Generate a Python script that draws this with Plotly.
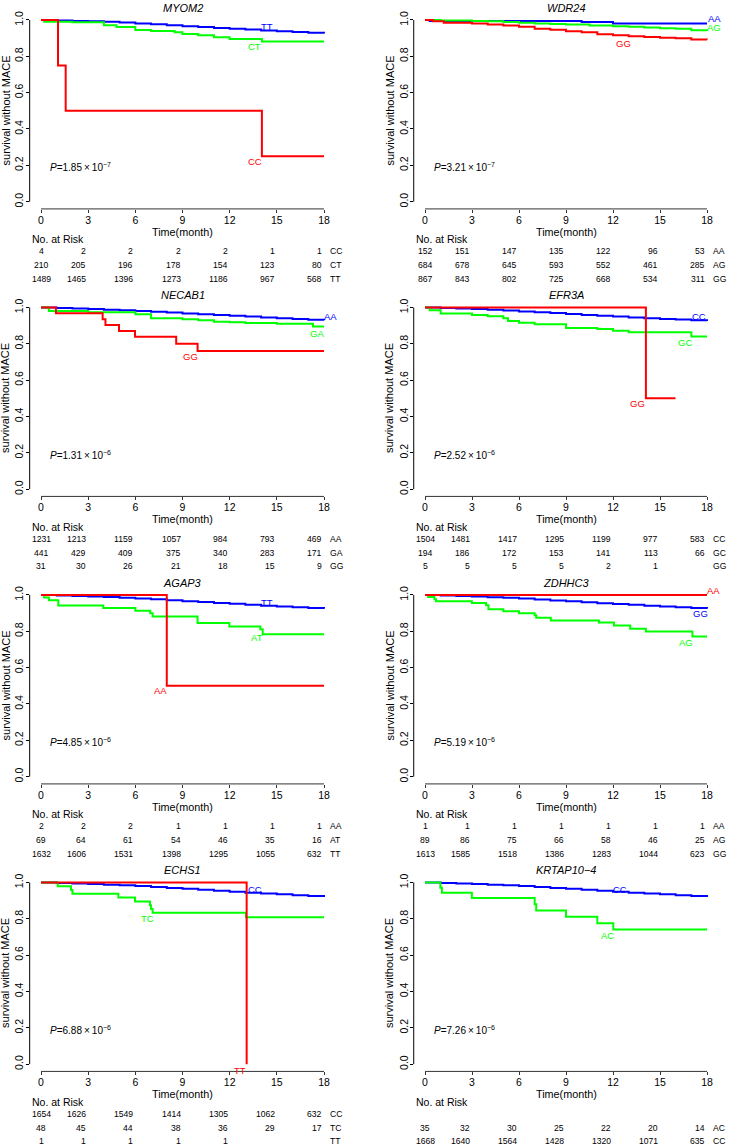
import plotly.graph_objects as go

W, H = 729, 1147
FONT = "Liberation Sans, Arial, Helvetica, sans-serif"
BLUE, GREEN, RED = "#0000FF", "#00FF00", "#FF0000"

TIME_TICKS = [0, 3, 6, 9, 12, 15, 18]
Y_TICKS = [0.0, 0.2, 0.4, 0.6, 0.8, 1.0]
Y_TICK_TEXT = ["0.0", "0.2", "0.4", "0.6", "0.8", "1.0"]

GENES = ["MYOM2", "WDR24", "NECAB1", "EFR3A", "AGAP3", "ZDHHC3", "ECHS1", "KRTAP10\u22124"]
P_MANT = ["1.85", "3.21", "1.31", "2.52", "4.85", "5.19", "6.88", "7.26"]
P_EXP = [-7, -7, -6, -6, -6, -6, -6, -6]

MONTHS = [0, 1, 2, 3, 4, 5, 6, 7, 8, 9, 10, 11, 12, 13, 14, 15, 16, 17, 18]

# ---- MYOM2 ----
MYOM2_TT_t = MONTHS
MYOM2_TT_s = [1.0, 0.997, 0.995, 0.993, 0.990, 0.986, 0.981, 0.976, 0.971, 0.966, 0.961, 0.956, 0.951, 0.947, 0.942, 0.938, 0.934, 0.929, 0.925]
MYOM2_CT_t = [0, 0.2, 2.0, 4.0, 4.8, 6.0, 7.0, 8.5, 9.0, 10.0, 11.0, 12.0, 14.05, 18]
MYOM2_CT_s = [1.0, 0.99, 0.987, 0.971, 0.961, 0.945, 0.939, 0.932, 0.923, 0.916, 0.905, 0.895, 0.882, 0.882]
MYOM2_CC_t = [0, 1.08, 1.57, 14.05, 18]
MYOM2_CC_s = [1.0, 0.75, 0.5, 0.25, 0.25]

# ---- WDR24 ----
WDR24_AA_t = [0, 0.3, 4.0, 10.0, 12.0, 18]
WDR24_AA_s = [1.0, 0.994, 0.994, 0.989, 0.981, 0.981]
WDR24_AG_t = [0, 1, 3, 4, 5, 6, 7, 8, 9, 10.5, 12, 13, 14, 15, 16, 17, 18]
WDR24_AG_s = [1.0, 0.997, 0.995, 0.993, 0.989, 0.985, 0.981, 0.978, 0.975, 0.970, 0.965, 0.962, 0.958, 0.955, 0.951, 0.944, 0.939]
WDR24_GG_t = [0, 0.5, 1.2, 3, 4, 5, 6, 7, 8, 9, 10, 11, 12, 13, 14, 15, 16, 17, 18]
WDR24_GG_s = [1.0, 0.993, 0.985, 0.980, 0.975, 0.970, 0.962, 0.952, 0.946, 0.938, 0.932, 0.922, 0.916, 0.910, 0.906, 0.902, 0.899, 0.893, 0.892]

# ---- NECAB1 ----
NECAB1_AA_t = MONTHS
NECAB1_AA_s = [1.0, 0.997, 0.994, 0.991, 0.988, 0.985, 0.981, 0.977, 0.972, 0.967, 0.963, 0.959, 0.954, 0.950, 0.945, 0.941, 0.937, 0.933, 0.929]
NECAB1_GA_t = [0, 0.5, 3.0, 6.0, 7.0, 9.0, 10.0, 11.0, 12.0, 13.0, 15.0, 17.3, 18]
NECAB1_GA_s = [1.0, 0.98, 0.973, 0.963, 0.94, 0.935, 0.93, 0.922, 0.918, 0.915, 0.91, 0.895, 0.895]
NECAB1_GG_t = [0, 0.95, 3.92, 4.1, 4.96, 5.98, 8.6, 9.96, 18]
NECAB1_GG_s = [1.0, 0.968, 0.935, 0.903, 0.871, 0.839, 0.8, 0.76, 0.76]

# ---- EFR3A ----
EFR3A_CC_t = MONTHS
EFR3A_CC_s = [1.0, 0.997, 0.994, 0.991, 0.987, 0.983, 0.978, 0.974, 0.969, 0.964, 0.959, 0.955, 0.950, 0.945, 0.941, 0.937, 0.934, 0.930, 0.926]
EFR3A_GC_t = [0, 0.3, 1.0, 3.0, 4.0, 5.0, 5.3, 6.0, 7.0, 9.0, 11.0, 12.0, 13.0, 17.0, 18]
EFR3A_GC_s = [1.0, 0.985, 0.967, 0.958, 0.951, 0.94, 0.925, 0.916, 0.907, 0.887, 0.881, 0.872, 0.863, 0.84, 0.84]
EFR3A_GG_t = [0, 14.1, 15.99]
EFR3A_GG_s = [1.0, 0.5, 0.5]

# ---- AGAP3 ----
AGAP3_TT_t = MONTHS
AGAP3_TT_s = [1.0, 0.997, 0.995, 0.992, 0.989, 0.985, 0.981, 0.976, 0.971, 0.966, 0.961, 0.956, 0.951, 0.946, 0.941, 0.937, 0.933, 0.928, 0.924]
AGAP3_AT_t = [0, 0.2, 0.5, 1.1, 3.96, 6.0, 6.95, 7.1, 9.96, 11.98, 13.95, 14.1, 18]
AGAP3_AT_s = [1.0, 0.986, 0.971, 0.942, 0.928, 0.913, 0.899, 0.881, 0.846, 0.826, 0.811, 0.784, 0.784]
AGAP3_AA_t = [0, 8.0, 18]
AGAP3_AA_s = [1.0, 0.5, 0.5]

# ---- ZDHHC3 ----
ZDHHC3_GG_t = MONTHS
ZDHHC3_GG_s = [1.0, 0.997, 0.994, 0.991, 0.988, 0.984, 0.980, 0.975, 0.970, 0.965, 0.960, 0.955, 0.950, 0.946, 0.941, 0.937, 0.933, 0.928, 0.924]
ZDHHC3_AG_t = [0, 0.2, 0.6, 0.7, 2.99, 3.9, 4.05, 5.0, 6.0, 7.0, 7.1, 8.03, 11.1, 12.06, 13.1, 14.1, 17.07, 18]
ZDHHC3_AG_s = [1.0, 0.989, 0.977, 0.966, 0.956, 0.944, 0.921, 0.910, 0.899, 0.888, 0.874, 0.859, 0.848, 0.832, 0.814, 0.799, 0.771, 0.771]
ZDHHC3_AA_t = [0, 18]
ZDHHC3_AA_s = [1.0, 1.0]

# ---- ECHS1 ----
ECHS1_CC_t = MONTHS
ECHS1_CC_s = [1.0, 0.997, 0.994, 0.991, 0.988, 0.984, 0.980, 0.975, 0.970, 0.965, 0.960, 0.955, 0.949, 0.944, 0.939, 0.935, 0.930, 0.925, 0.920]
ECHS1_TC_t = [0, 1.06, 1.91, 2.0, 4.92, 5.98, 6.93, 7.0, 7.1, 13.04, 18]
ECHS1_TC_s = [1.0, 0.979, 0.958, 0.938, 0.917, 0.895, 0.875, 0.854, 0.833, 0.808, 0.808]
ECHS1_TT_t = [0, 13.08]
ECHS1_TT_s = [1.0, 0.0]

# ---- KRTAP10-4 ----
KRTAP_CC_t = MONTHS
KRTAP_CC_s = [1.0, 0.997, 0.994, 0.991, 0.988, 0.984, 0.980, 0.975, 0.970, 0.965, 0.960, 0.955, 0.949, 0.944, 0.939, 0.935, 0.930, 0.925, 0.920]
KRTAP_AC_t = [0, 0.98, 1.08, 2.99, 7.0, 7.1, 9.0, 11.0, 12.02, 18]
KRTAP_AC_s = [1.0, 0.971, 0.943, 0.914, 0.88, 0.846, 0.811, 0.776, 0.741, 0.741]

# ---- numbers at risk (rows top to bottom) ----
RISK_MYOM2 = [("CC", [4, 2, 2, 2, 2, 1, 1]), ("CT", [210, 205, 196, 178, 154, 123, 80]), ("TT", [1489, 1465, 1396, 1273, 1186, 967, 568])]
RISK_WDR24 = [("AA", [152, 151, 147, 135, 122, 96, 53]), ("AG", [684, 678, 645, 593, 552, 461, 285]), ("GG", [867, 843, 802, 725, 668, 534, 311])]
RISK_NECAB1 = [("AA", [1231, 1213, 1159, 1057, 984, 793, 469]), ("GA", [441, 429, 409, 375, 340, 283, 171]), ("GG", [31, 30, 26, 21, 18, 15, 9])]
RISK_EFR3A = [("CC", [1504, 1481, 1417, 1295, 1199, 977, 583]), ("GC", [194, 186, 172, 153, 141, 113, 66]), ("GG", [5, 5, 5, 5, 2, 1, None])]
RISK_AGAP3 = [("AA", [2, 2, 2, 1, 1, 1, 1]), ("AT", [69, 64, 61, 54, 46, 35, 16]), ("TT", [1632, 1606, 1531, 1398, 1295, 1055, 632])]
RISK_ZDHHC3 = [("AA", [1, 1, 1, 1, 1, 1, 1]), ("AG", [89, 86, 75, 66, 58, 46, 25]), ("GG", [1613, 1585, 1518, 1386, 1283, 1044, 623])]
RISK_ECHS1 = [("CC", [1654, 1626, 1549, 1414, 1305, 1062, 632]), ("TC", [48, 45, 44, 38, 36, 29, 17]), ("TT", [1, 1, 1, 1, 1, None, None])]
RISK_KRTAP = [(None, None), ("AC", [35, 32, 30, 25, 22, 20, 14]), ("CC", [1668, 1640, 1564, 1428, 1320, 1071, 635])]

# curves: (name, times, surv, color, label position (t, s))
PANELS = [
    [("TT", MYOM2_TT_t, MYOM2_TT_s, BLUE, (14.36, 0.965)), ("CT", MYOM2_CT_t, MYOM2_CT_s, GREEN, (13.6, 0.852)), ("CC", MYOM2_CC_t, MYOM2_CC_s, RED, (13.6, 0.22))],
    [("AA", WDR24_AA_t, WDR24_AA_s, BLUE, (18.45, 1.007)), ("AG", WDR24_AG_t, WDR24_AG_s, GREEN, (18.45, 0.958)), ("GG", WDR24_GG_t, WDR24_GG_s, RED, (12.66, 0.87))],
    [("AA", NECAB1_AA_t, NECAB1_AA_s, BLUE, (18.4, 0.953)), ("GA", NECAB1_GA_t, NECAB1_GA_s, GREEN, (17.58, 0.858)), ("GG", NECAB1_GG_t, NECAB1_GG_s, RED, (9.48, 0.728))],
    [("CC", EFR3A_CC_t, EFR3A_CC_s, BLUE, (17.47, 0.953)), ("GC", EFR3A_GC_t, EFR3A_GC_s, GREEN, (16.58, 0.808)), ("GG", EFR3A_GG_t, EFR3A_GG_s, RED, (13.59, 0.469))],
    [("TT", AGAP3_TT_t, AGAP3_TT_s, BLUE, (14.35, 0.96)), ("AT", AGAP3_AT_t, AGAP3_AT_s, GREEN, (13.72, 0.765)), ("AA", AGAP3_AA_t, AGAP3_AA_s, RED, (7.63, 0.475))],
    [("GG", ZDHHC3_GG_t, ZDHHC3_GG_s, BLUE, (17.58, 0.896)), ("AG", ZDHHC3_AG_t, ZDHHC3_AG_s, GREEN, (16.67, 0.74)), ("AA", ZDHHC3_AA_t, ZDHHC3_AA_s, RED, (18.43, 1.027))],
    [("CC", ECHS1_CC_t, ECHS1_CC_s, BLUE, (13.6, 0.963)), ("TC", ECHS1_TC_t, ECHS1_TC_s, GREEN, (6.78, 0.80)), ("TT", ECHS1_TT_t, ECHS1_TT_s, RED, (12.66, -0.033))],
    [("CC", KRTAP_CC_t, KRTAP_CC_s, BLUE, (12.44, 0.963)), ("AC", KRTAP_AC_t, KRTAP_AC_s, GREEN, (11.63, 0.71))],
]
RISKS = [RISK_MYOM2, RISK_WDR24, RISK_NECAB1, RISK_EFR3A, RISK_AGAP3, RISK_ZDHHC3, RISK_ECHS1, RISK_KRTAP]

fig = go.Figure()
annotations = []
shapes = []
layout = {}

COL_PX = [(41.0, 324.0), (425.0, 707.0)]
ROW_PITCH = 288.0
XR = [-0.72, 18.72]
YR = [-0.04, 1.04]


def py(px):
    return 1 - px / H


for k in range(8):
    r, c = divmod(k, 2)
    top = ROW_PITCH * r
    x0, x18 = COL_PX[c]
    ux = (x18 - x0) / 18.0
    xdom = [(x0 + XR[0] * ux) / W, (x0 + XR[1] * ux) / W]
    y1px, y0px = top + 18.0, top + 200.0
    uy = y0px - y1px
    ydom = [py(y0px - YR[0] * uy), py(y0px - YR[1] * uy)]
    sfx = "" if k == 0 else str(k + 1)
    xa, ya = "x" + sfx, "y" + sfx

    layout["xaxis" + sfx] = dict(domain=xdom, range=XR, anchor=ya, tickvals=TIME_TICKS,
                                 ticks="outside", ticklen=3, tickcolor="#333", showgrid=False,
                                 zeroline=False, showline=False, tickfont=dict(size=10.5, color="black"),
                                 ticklabelstandoff=-2, fixedrange=True)
    layout["yaxis" + sfx] = dict(domain=ydom, range=YR, anchor=xa, tickvals=Y_TICKS, ticktext=Y_TICK_TEXT,
                                 tickangle=-90, ticks="outside", ticklen=3, tickcolor="black",
                                 showgrid=False, zeroline=False, showline=False,
                                 tickfont=dict(size=10.5, color="black"), ticklabelstandoff=-2,
                                 fixedrange=True)

    # axis lines spanning the tick range (as in base R)
    shapes.append(dict(type="line", xref=xa, yref=ya + " domain", x0=min(TIME_TICKS), x1=max(TIME_TICKS),
                       y0=0, y1=0, line=dict(color="#333", width=1)))
    shapes.append(dict(type="line", xref=xa + " domain", yref=ya, x0=0, x1=0,
                       y0=min(Y_TICKS), y1=max(Y_TICKS), line=dict(color="black", width=1)))

    # curves (blue, green, then red on top)
    for name, t, s, col, lab in PANELS[k]:
        fig.add_trace(go.Scatter(x=t, y=s, mode="lines", line=dict(color=col, width=2, shape="hv"),
                                 xaxis=xa, yaxis=ya, showlegend=False, name=name, hoverinfo="skip"))
        annotations.append(dict(x=lab[0], y=lab[1], xref=xa, yref=ya, text=name, showarrow=False,
                                font=dict(size=9.5, color=col), xanchor="center", yanchor="middle"))

    # title
    annotations.append(dict(x=0.5, y=py(top + 6), xref=xa + " domain", yref="paper", text="<i>%s</i>" % GENES[k],
                            showarrow=False, font=dict(size=11), xanchor="center", yanchor="middle"))
    # y label
    annotations.append(dict(x=(xdom[0] * W - 24) / W, y=0.5, xref="paper", yref=ya + " domain",
                            text="survival without MACE", textangle=-90, showarrow=False,
                            font=dict(size=11), xanchor="center", yanchor="middle"))
    # x label
    annotations.append(dict(x=9, y=py(top + 230), xref=xa, yref="paper", text="Time(month)",
                            showarrow=False, font=dict(size=10.8), xanchor="center", yanchor="middle"))
    # P value
    annotations.append(dict(x=0.42, y=0.19, xref=xa, yref=ya,
                            text="<i>P</i>=%s\u2009\u00d7\u200910<sup>\u2212%d</sup>" % (P_MANT[k], -P_EXP[k]),
                            showarrow=False, font=dict(size=10), xanchor="left", yanchor="middle"))
    # numbers at risk
    annotations.append(dict(x=0, y=py(top + 237.5), xref=xa + " domain", yref="paper", text="No. at Risk",
                            showarrow=False, font=dict(size=10.5), xanchor="left", yanchor="middle"))
    row_px = [top + 249.5, top + 263.5, top + 277]
    for (grp, vals), rp in zip(RISKS[k], row_px):
        if grp is None:
            continue
        for tt, v in zip(TIME_TICKS, vals):
            if v is None:
                continue
            annotations.append(dict(x=tt, y=py(rp), xref=xa, yref="paper", text=str(v), showarrow=False,
                                    font=dict(size=8.6), xanchor="center" if tt == 0 else "right",
                                    yanchor="middle"))
        annotations.append(dict(x=max(TIME_TICKS), y=py(rp), xref=xa, yref="paper", text=grp, showarrow=False,
                                font=dict(size=8.6), xanchor="left", xshift=4, yanchor="middle"))

fig.update_layout(**layout)
fig.update_layout(width=W, height=H, margin=dict(l=0, r=0, t=0, b=0), autosize=False,
                  paper_bgcolor="white", plot_bgcolor="white",
                  font=dict(family=FONT, color="black", size=10),
                  annotations=annotations, shapes=shapes, showlegend=False)
fig.write_html("out.html", config={"displayModeBar": False, "staticPlot": True},
               post_script="document.body.style.margin='0';document.body.style.padding='0';"
                           "document.body.style.overflow='hidden';")
